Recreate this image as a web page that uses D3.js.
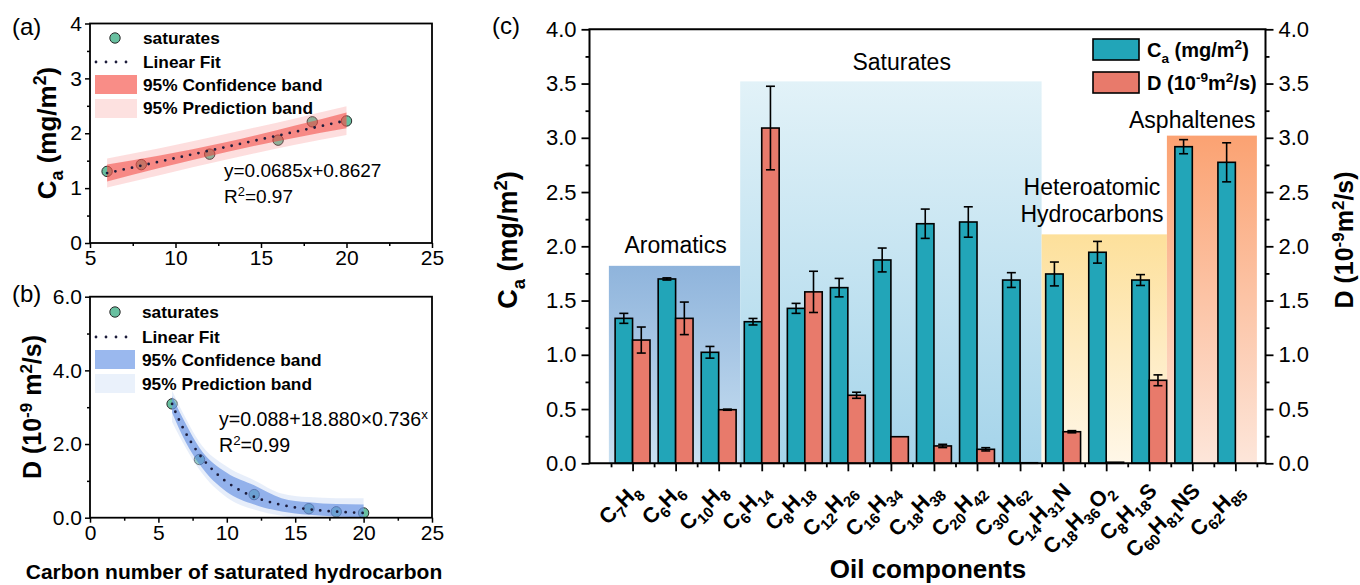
<!DOCTYPE html>
<html>
<head>
<meta charset="utf-8">
<script src="https://cdn.jsdelivr.net/npm/d3@7"></script>
<style>
  html, body { margin: 0; padding: 0; background: #fff; }
  svg { display: block; font-family: Arial, "Liberation Sans", Helvetica, sans-serif; }
  text { white-space: pre; }
</style>
</head>
<body>
<svg id="fig" width="1360" height="585"></svg>
<script>
// ---------------- data ----------------
// saturated hydrocarbons: carbon number vs adsorption amount and diffusion coefficient
const carbonNumbers = [6, 8, 12, 16, 18, 20];
const saturatesCa   = [1.305, 1.428, 1.619, 1.874, 2.208, 2.224];
const saturatesD    = [3.09, 1.58, 0.627, 0.245, 0.16, 0.129];

// fitted models, as printed on the panels
const linearFit = { slope: 0.0685, intercept: 0.8627, r2: "0.97" };
const expFit    = { y0: 0.088, a: 18.880, b: 0.736, r2: "0.99" };

// 95% bands of the linear fit (panel a)
const bandAX      = [6, 9, 13, 17, 20];
const bandAConfLo = [1.12, 1.36, 1.66, 1.92, 2.09];
const bandAConfHi = [1.43, 1.59, 1.84, 2.14, 2.38];
const bandAPredLo = [1.01, 1.23, 1.52, 1.79, 1.97];
const bandAPredHi = [1.54, 1.72, 1.99, 2.27, 2.49];

// 95% bands of the exponential fit (panel b)
const bandBX      = [6, 7, 8, 10, 12, 14, 16, 18, 20];
const bandBConfLo = [2.85, 2.05, 1.45, 0.70, 0.36, 0.17, 0.08, 0.03, 0.00];
const bandBConfHi = [3.30, 2.55, 1.90, 1.22, 0.88, 0.53, 0.42, 0.37, 0.36];
const bandBPredLo = [2.60, 1.90, 1.30, 0.55, 0.22, 0.05, -0.05, -0.10, -0.10];
const bandBPredHi = [3.45, 2.70, 2.05, 1.39, 1.02, 0.66, 0.56, 0.53, 0.53];

// oil components (panel c)
const components = ["C_{7}H_{8}", "C_{6}H_{6}", "C_{10}H_{8}", "C_{6}H_{14}", "C_{8}H_{18}",
  "C_{12}H_{26}", "C_{16}H_{34}", "C_{18}H_{38}", "C_{20}H_{42}", "C_{30}H_{62}",
  "C_{14}H_{31}N", "C_{18}H_{36}O_{2}", "C_{8}H_{18}S", "C_{60}H_{81}NS", "C_{62}H_{85}"];
const caMean = [1.336, 1.699, 1.023, 1.305, 1.428, 1.619, 1.874, 2.208, 2.224, 1.689, 1.745, 1.945, 1.689, 2.918, 2.774];
const caErr  = [0.046, 0.010, 0.054, 0.030, 0.046, 0.085, 0.110, 0.135, 0.140, 0.068, 0.110, 0.100, 0.050, 0.065, 0.180];
const dMean  = [1.136, 1.336, 0.494, 3.09, 1.58, 0.627, 0.245, 0.16, 0.129, 0.005, 0.291, 0.01, 0.765, null, null];
const dErr   = [0.120, 0.150, 0.005, 0.385, 0.190, 0.028, 0, 0.015, 0.015, 0, 0.010, 0, 0.050, null, null];

const groupNames   = ["Aromatics", "Saturates", "Heteroatomic\nHydrocarbons", "Asphaltenes"];
const groupMembers = [[0, 2], [3, 9], [10, 12], [13, 14]];
const groupTops    = [1.82, 3.52, 2.11, 3.02];

// ---------------- helpers ----------------
const svg = d3.select("#fig");
const defs = svg.append("defs");

// "C_{7}H_{8}" / "m^{2}" style markup -> tspans
function richText(sel, str, size, subRatio = 0.68) {
  const parts = str.match(/(_\{[^}]*\}|\^\{[^}]*\}|[^_^]+)/g);
  let cur = 0;
  parts.forEach(p => {
    let shift = 0, fs = size, t = p;
    if (p.startsWith("_{")) { shift = size * 0.28; fs = size * subRatio; t = p.slice(2, -1); }
    else if (p.startsWith("^{")) { shift = -size * 0.38; fs = size * subRatio; t = p.slice(2, -1); }
    sel.append("tspan").attr("dy", shift - cur).attr("font-size", fs).text(t);
    cur = shift;
  });
  return sel;
}

function styleAxis(g, fontSize, lw) {
  g.selectAll(".domain").remove();
  g.selectAll(".tick line").attr("stroke", "#000").attr("stroke-width", lw);
  g.selectAll(".tick text").attr("fill", "#000").attr("font-size", fontSize)
    .attr("font-family", 'Arial, "Liberation Sans", sans-serif');
}

const C_POINT = "#68c0a0";

// ---------------- panel (a) ----------------
const xa = d3.scaleLinear().domain([5, 25]).range([90, 432]);
const ya = d3.scaleLinear().domain([0, 4]).range([243, 23.5]);
const gA = svg.append("g");

defs.append("clipPath").attr("id", "clipA").append("rect")
  .attr("x", xa(5)).attr("y", ya(4)).attr("width", xa(25) - xa(5)).attr("height", ya(0) - ya(4));

const areaA = (lo, hi) => d3.area().curve(d3.curveMonotoneX)
  .x((d, i) => xa(bandAX[i])).y0((d, i) => ya(lo[i])).y1((d, i) => ya(hi[i]))(bandAX);

const plotA = gA.append("g").attr("clip-path", "url(#clipA)");
plotA.selectAll("circle").data(carbonNumbers).join("circle")
  .attr("cx", d => xa(d)).attr("cy", (d, i) => ya(saturatesCa[i])).attr("r", 5.2)
  .attr("fill", C_POINT).attr("stroke", "#2a2a2a").attr("stroke-width", 1);
plotA.append("path").attr("d", areaA(bandAPredLo, bandAPredHi)).attr("fill", "#f98a8a").attr("opacity", 0.28);
plotA.append("path").attr("d", areaA(bandAConfLo, bandAConfHi)).attr("fill", "#f2443c").attr("opacity", 0.55);
plotA.append("path")
  .attr("d", d3.line().x(d => xa(d)).y(d => ya(linearFit.slope * d + linearFit.intercept))([6, 20]))
  .attr("fill", "none").attr("stroke", "#1d1d3c").attr("stroke-width", 2.8)
  .attr("stroke-linecap", "round").attr("stroke-dasharray", "0,8.5");

gA.append("g").attr("transform", `translate(0,${ya(0)})`)
  .call(d3.axisBottom(xa).tickValues([5, 10, 15, 20, 25]).tickSize(5).tickPadding(2).tickSizeOuter(0))
  .call(g => styleAxis(g, 21, 1.5));
gA.append("g").attr("transform", `translate(0,${ya(0)})`)
  .call(d3.axisBottom(xa).tickValues([7.5, 12.5, 17.5, 22.5]).tickSize(3).tickFormat("").tickSizeOuter(0))
  .call(g => styleAxis(g, 21, 1.5));
gA.append("g").attr("transform", `translate(${xa(5)},0)`)
  .call(d3.axisLeft(ya).tickValues([0, 1, 2, 3, 4]).tickSize(5).tickPadding(3).tickFormat(d3.format("d")).tickSizeOuter(0))
  .call(g => styleAxis(g, 21, 1.5));
gA.append("g").attr("transform", `translate(${xa(5)},0)`)
  .call(d3.axisLeft(ya).tickValues([0.5, 1.5, 2.5, 3.5]).tickSize(3).tickFormat("").tickSizeOuter(0))
  .call(g => styleAxis(g, 21, 1.5));
gA.append("rect").attr("x", xa(5)).attr("y", ya(4)).attr("width", xa(25) - xa(5)).attr("height", ya(0) - ya(4))
  .attr("fill", "none").attr("stroke", "#000").attr("stroke-width", 1.8);

// legend (a)
gA.append("circle").attr("cx", 115).attr("cy", 38).attr("r", 5.2).attr("fill", C_POINT).attr("stroke", "#2a2a2a");
gA.append("line").attr("x1", 96).attr("x2", 136).attr("y1", 62).attr("y2", 62)
  .attr("stroke", "#1d1d3c").attr("stroke-width", 2.8).attr("stroke-linecap", "round").attr("stroke-dasharray", "0,10");
gA.append("rect").attr("x", 95).attr("y", 75).attr("width", 42).attr("height", 19).attr("fill", "#f98d87");
gA.append("rect").attr("x", 95).attr("y", 99).attr("width", 42).attr("height", 19).attr("fill", "#fde1e0");
[["saturates", 44], ["Linear Fit", 68], ["95% Confidence band", 91], ["95% Prediction band", 114]].forEach(([t, y]) =>
  gA.append("text").attr("x", 143).attr("y", y).attr("font-size", 17.3).attr("font-weight", "bold").text(t));
gA.append("text").attr("x", 224).attr("y", 177).attr("font-size", 19)
  .text(`y=${linearFit.slope}x+${linearFit.intercept}`);
richText(gA.append("text").attr("x", 224).attr("y", 203), `R^{2}=${linearFit.r2}`, 19);

// axis title (a)
richText(gA.append("text").attr("transform", "translate(56,133) rotate(-90)").attr("text-anchor", "middle")
  .attr("font-weight", "bold"), "C_{a} (mg/m^{2})", 26);
gA.append("text").attr("x", 12).attr("y", 35).attr("font-size", 24).text("(a)");

// ---------------- panel (b) ----------------
const xb = d3.scaleLinear().domain([0, 25]).range([90, 432]);
const yb = d3.scaleLinear().domain([0, 6]).range([517.7, 296.7]);
const gB = svg.append("g");

defs.append("clipPath").attr("id", "clipB").append("rect")
  .attr("x", xb(0)).attr("y", yb(6)).attr("width", xb(25) - xb(0)).attr("height", yb(0) - yb(6));

const areaB = (lo, hi) => d3.area().curve(d3.curveMonotoneX)
  .x((d, i) => xb(bandBX[i])).y0((d, i) => yb(lo[i])).y1((d, i) => yb(hi[i]))(bandBX);

const plotB = gB.append("g").attr("clip-path", "url(#clipB)");
plotB.selectAll("circle").data(carbonNumbers).join("circle")
  .attr("cx", d => xb(d)).attr("cy", (d, i) => yb(saturatesD[i])).attr("r", 5.2)
  .attr("fill", C_POINT).attr("stroke", "#2a2a2a").attr("stroke-width", 1);
plotB.append("path").attr("d", areaB(bandBPredLo, bandBPredHi)).attr("fill", "#c9daf5").attr("opacity", 0.45);
plotB.append("path").attr("d", areaB(bandBConfLo, bandBConfHi)).attr("fill", "#4579dc").attr("opacity", 0.52);
const expCurve = d3.range(6, 20.001, 0.2);
plotB.append("path")
  .attr("d", d3.line().x(d => xb(d)).y(d => yb(expFit.y0 + expFit.a * Math.pow(expFit.b, d)))(expCurve))
  .attr("fill", "none").attr("stroke", "#1d1d3c").attr("stroke-width", 2.8)
  .attr("stroke-linecap", "round").attr("stroke-dasharray", "0,8.5");

gB.append("g").attr("transform", `translate(0,${yb(0)})`)
  .call(d3.axisBottom(xb).tickValues([0, 5, 10, 15, 20, 25]).tickSize(5).tickPadding(2).tickSizeOuter(0))
  .call(g => styleAxis(g, 21, 1.5));
gB.append("g").attr("transform", `translate(0,${yb(0)})`)
  .call(d3.axisBottom(xb).tickValues([2.5, 7.5, 12.5, 17.5, 22.5]).tickSize(3).tickFormat("").tickSizeOuter(0))
  .call(g => styleAxis(g, 21, 1.5));
gB.append("g").attr("transform", `translate(${xb(0)},0)`)
  .call(d3.axisLeft(yb).tickValues([0, 2, 4, 6]).tickSize(5).tickPadding(3).tickFormat(d3.format(".1f")).tickSizeOuter(0))
  .call(g => styleAxis(g, 21, 1.5));
gB.append("g").attr("transform", `translate(${xb(0)},0)`)
  .call(d3.axisLeft(yb).tickValues([1, 3, 5]).tickSize(3).tickFormat("").tickSizeOuter(0))
  .call(g => styleAxis(g, 21, 1.5));
gB.append("rect").attr("x", xb(0)).attr("y", yb(6)).attr("width", xb(25) - xb(0)).attr("height", yb(0) - yb(6))
  .attr("fill", "none").attr("stroke", "#000").attr("stroke-width", 1.8);

// legend (b)
gB.append("circle").attr("cx", 115).attr("cy", 312).attr("r", 5.2).attr("fill", C_POINT).attr("stroke", "#2a2a2a");
gB.append("line").attr("x1", 96).attr("x2", 136).attr("y1", 337).attr("y2", 337)
  .attr("stroke", "#1d1d3c").attr("stroke-width", 2.8).attr("stroke-linecap", "round").attr("stroke-dasharray", "0,10");
gB.append("rect").attr("x", 95).attr("y", 350).attr("width", 40).attr("height", 19).attr("fill", "#9ab8ee");
gB.append("rect").attr("x", 95).attr("y", 374).attr("width", 40).attr("height", 19).attr("fill", "#eaf1fb");
[["saturates", 318], ["Linear Fit", 343], ["95% Confidence band", 366], ["95% Prediction band", 390]].forEach(([t, y]) =>
  gB.append("text").attr("x", 142).attr("y", y).attr("font-size", 17.3).attr("font-weight", "bold").text(t));
richText(gB.append("text").attr("x", 219).attr("y", 426),
  `y=${expFit.y0}+${expFit.a.toFixed(3)}×${expFit.b}^{x}`, 19.6);
richText(gB.append("text").attr("x", 219).attr("y", 452), `R^{2}=${expFit.r2}`, 19.6);

richText(gB.append("text").attr("transform", "translate(41,407) rotate(-90)").attr("text-anchor", "middle")
  .attr("font-weight", "bold"), "D (10^{-9} m^{2}/s)", 25);
gB.append("text").attr("x", 12).attr("y", 302).attr("font-size", 24).text("(b)");
svg.append("text").attr("x", 234).attr("y", 579).attr("text-anchor", "middle")
  .attr("font-size", 21).attr("font-weight", "bold").text("Carbon number of saturated hydrocarbon");

// ---------------- panel (c) ----------------
const xC = d3.scaleLinear().domain([-1, 14.7]).range([589.5, 1265.5]);
const yC = d3.scaleLinear().domain([0, 4]).range([463.3, 29.3]);
const step = xC(1) - xC(0);
const barW = step * 0.405;
const gC = svg.append("g");

// group shading
const gradStops = [["#8fb4dc", "#c9e0f1"], ["#e2f2f8", "#a5d4ea"], ["#fde09b", "#fff7e8"], ["#fba272", "#fde6da"]];
const regionEdges = [-0.55, 2.5, 9.5, 12 + 0.41, 14.5];
const labelIdx = [1.0, 6.25, 10.67, 13.0];
const labelGap = [13, 11, 12, 8];
groupNames.forEach((name, k) => {
  const id = "grad" + k;
  const lg = defs.append("linearGradient").attr("id", id).attr("x1", 0).attr("x2", 0).attr("y1", 0).attr("y2", 1);
  lg.append("stop").attr("offset", "0%").attr("stop-color", gradStops[k][0]);
  lg.append("stop").attr("offset", "100%").attr("stop-color", gradStops[k][1]);
  const x0 = xC(regionEdges[k]), x1 = xC(regionEdges[k + 1]);
  gC.append("rect").attr("x", x0).attr("y", yC(groupTops[k])).attr("width", x1 - x0)
    .attr("height", yC(0) - yC(groupTops[k])).attr("fill", `url(#${id})`);
  const lines = name.split("\n");
  const lastBase = yC(groupTops[k]) - labelGap[k];
  lines.forEach((ln, j) => {
    gC.append("text").attr("x", xC(labelIdx[k])).attr("y", lastBase - (lines.length - 1 - j) * 27)
      .attr("text-anchor", "middle").attr("font-size", 23).text(ln);
  });
});

// bars
const C_TEAL = "#22a5b8", C_RED = "#e87a6b";
gC.selectAll("rect.ca").data(caMean).join("rect").attr("class", "ca")
  .attr("x", (d, i) => xC(i) - barW).attr("y", d => yC(d)).attr("width", barW).attr("height", d => yC(0) - yC(d))
  .attr("fill", C_TEAL).attr("stroke", "#000").attr("stroke-width", 1.6);
const dIdx = d3.range(dMean.length).filter(i => dMean[i] != null);
gC.selectAll("rect.dd").data(dIdx).join("rect").attr("class", "dd")
  .attr("x", i => xC(i)).attr("y", i => yC(dMean[i])).attr("width", barW).attr("height", i => yC(0) - yC(dMean[i]))
  .attr("fill", C_RED).attr("stroke", "#000").attr("stroke-width", 1.6);

// error bars
function errBar(cx, v, e) {
  if (!e) return;
  const g = gC.append("g").attr("stroke", "#000").attr("stroke-width", 1.6);
  g.append("line").attr("x1", cx).attr("x2", cx).attr("y1", yC(v - e)).attr("y2", yC(v + e));
  [v - e, v + e].forEach(t => g.append("line").attr("x1", cx - 4.5).attr("x2", cx + 4.5).attr("y1", yC(t)).attr("y2", yC(t)));
}
caMean.forEach((v, i) => errBar(xC(i) - barW / 2, v, caErr[i]));
dIdx.forEach(i => errBar(xC(i) + barW / 2, dMean[i], dErr[i]));

// axes
const xL = xC.range()[0], xR = xC.range()[1];
gC.append("g").attr("transform", `translate(${xL},0)`)
  .call(d3.axisLeft(yC).tickValues(d3.range(0, 4.001, 0.5)).tickSize(8).tickPadding(5).tickFormat(d3.format(".1f")).tickSizeOuter(0))
  .call(g => styleAxis(g, 22, 1.8));
gC.append("g").attr("transform", `translate(${xL},0)`)
  .call(d3.axisLeft(yC).tickValues(d3.range(0.25, 4, 0.5)).tickSize(4).tickFormat("").tickSizeOuter(0))
  .call(g => styleAxis(g, 22, 1.8));
gC.append("g").attr("transform", `translate(${xR},0)`)
  .call(d3.axisRight(yC).tickValues(d3.range(0, 4.001, 0.5)).tickSize(8).tickPadding(5).tickFormat(d3.format(".1f")).tickSizeOuter(0))
  .call(g => styleAxis(g, 22, 1.8));
gC.append("g").attr("transform", `translate(${xR},0)`)
  .call(d3.axisRight(yC).tickValues(d3.range(0.25, 4, 0.5)).tickSize(4).tickFormat("").tickSizeOuter(0))
  .call(g => styleAxis(g, 22, 1.8));
gC.append("g").attr("transform", `translate(0,${yC(0)})`)
  .call(d3.axisBottom(xC).tickValues(d3.range(0, components.length)).tickSize(8).tickFormat("").tickSizeOuter(0))
  .call(g => styleAxis(g, 22, 1.8));
gC.append("g").attr("transform", `translate(0,${yC(0)})`)
  .call(d3.axisBottom(xC).tickValues(d3.range(-0.5, components.length, 1)).tickSize(4).tickFormat("").tickSizeOuter(0))
  .call(g => styleAxis(g, 22, 1.8));
gC.append("path").attr("d", `M${xL},${yC(0)}V${yC(4)}H${xR}V${yC(0)}Z`)
  .attr("fill", "none").attr("stroke", "#000").attr("stroke-width", 2);

// rotated category labels
components.forEach((c, i) => {
  richText(gC.append("text").attr("transform", `translate(${xC(i) + 9},${492}) rotate(-45)`)
    .attr("text-anchor", "end").attr("font-weight", "bold"), c, 21.5, 0.7);
});

// legend (c)
gC.append("rect").attr("x", 1093).attr("y", 39).attr("width", 46).attr("height", 21)
  .attr("fill", C_TEAL).attr("stroke", "#000").attr("stroke-width", 1.6);
gC.append("rect").attr("x", 1093).attr("y", 72).attr("width", 46).attr("height", 21)
  .attr("fill", C_RED).attr("stroke", "#000").attr("stroke-width", 1.6);
richText(gC.append("text").attr("x", 1147).attr("y", 57).attr("font-weight", "bold"), "C_{a} (mg/m^{2})", 20);
richText(gC.append("text").attr("x", 1147).attr("y", 90).attr("font-weight", "bold"), "D (10^{-9}m^{2}/s)", 20);

// axis titles (c)
richText(gC.append("text").attr("transform", "translate(517,240) rotate(-90)").attr("text-anchor", "middle")
  .attr("font-weight", "bold"), "C_{a} (mg/m^{2})", 27);
richText(gC.append("text").attr("transform", "translate(1353,240) rotate(-90)").attr("text-anchor", "middle")
  .attr("font-weight", "bold"), "D (10^{-9}m^{2}/s)", 25);
svg.append("text").attr("x", 928).attr("y", 578).attr("text-anchor", "middle")
  .attr("font-size", 26).attr("font-weight", "bold").text("Oil components");
svg.append("text").attr("x", 492).attr("y", 34).attr("font-size", 24).text("(c)");
</script>
</body>
</html>
